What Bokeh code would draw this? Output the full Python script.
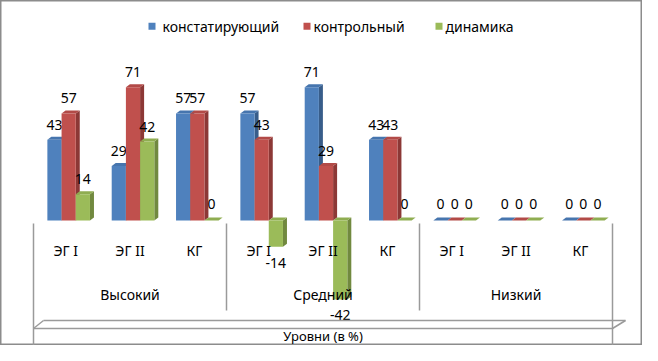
import numpy as np
from bokeh.plotting import figure
from bokeh.models import ColumnDataSource, Range1d
from bokeh.core.properties import value
from bokeh.embed import file_html
from bokeh.resources import INLINE

# ---------------- data ----------------
categories = ["ЭГ I", "ЭГ II", "КГ", "ЭГ I", "ЭГ II", "КГ", "ЭГ I", "ЭГ II", "КГ"]
groups = ["Высокий", "Средний", "Низкий"]
series_names = ["констатирующий", "контрольный", "динамика"]
konst = [43, 29, 57, 57, 71, 43, 0, 0, 0]
kontr = [57, 71, 57, 43, 29, 43, 0, 0, 0]
dinam = [14, 42, 0, -14, -42, 0, 0, 0, 0]
axis_title = "Уровни (в %)"

series_values = [konst, kontr, dinam]
front_colors = ["#4F81BD", "#C0504D", "#9BBB59"]
top_colors = ["#4675AE", "#B24A47", "#8FAD51"]
side_colors = ["#385D8A", "#8C3836", "#71893F"]

FONT = value("Noto Sans")
GRAY = "#9a9a9a"
FS = "14px"

# ---------------- layout helpers (reference pixel -> data) ----------------
W, H = 642, 345
X0_REF = 33.0
CAT_PX = (612.0 - 33.0) / 9.0
BASE_REF = 220.0
PX_PER_UNIT = 1.878


def xd(px):
    return (px - X0_REF) / CAT_PX - 0.5


def yd(py):
    return (BASE_REF - py) / PX_PER_UNIT


p = figure(width=W, height=H, x_range=Range1d(xd(0), xd(W)), y_range=Range1d(yd(H), yd(0)),
           output_backend="svg", toolbar_location=None, min_border=0)
p.axis.visible = False
p.grid.visible = False
p.outline_line_color = "#8c8c8c"
p.outline_line_width = 2
p.background_fill_color = "white"
p.border_fill_color = "white"

# ---------------- bars (3D look) ----------------
bw = 14.2 / CAT_PX
off = 3.0 / CAT_PX
ddx = 4.0 / CAT_PX
ddy = 3.0 / PX_PER_UNIT

idx = np.arange(len(categories))
for k, vals in enumerate(series_values):
    v = np.array(vals, dtype=float)
    xc = idx + off + (k - 1) * bw
    x0 = xc - bw / 2
    x1 = xc + bw / 2
    top = np.maximum(v, 0)
    bot = np.minimum(v, 0)
    side_xs = [[a, a + ddx, a + ddx, a] for a in x1]
    side_ys = [[b, b + ddy, t + ddy, t] for b, t in zip(bot, top)]
    top_xs = [[a, b, b + ddx, a + ddx] for a, b in zip(x0, x1)]
    top_ys = [[t, t, t + ddy, t + ddy] for t in top]
    p.patches(side_xs, side_ys, fill_color=side_colors[k], line_color=None)
    p.patches(top_xs, top_ys, fill_color=top_colors[k], line_color=None)
    p.quad(left=x0, right=x1, top=top, bottom=bot, fill_color=front_colors[k], line_color=None)

    # value labels
    ly = np.where(v > 0, v + 15.0 / PX_PER_UNIT,
                  np.where(v < 0, v - 16.0 / PX_PER_UNIT, 17.0 / PX_PER_UNIT))
    src = ColumnDataSource(dict(x=xc, y=ly, t=[str(int(a)) for a in vals]))
    p.text(x="x", y="y", text="t", source=src, text_font=FONT, text_font_size=FS,
           text_align="center", text_baseline="middle", text_color="#000000")

# ---------------- category axis ----------------
p.text(x=idx, y=[yd(250)] * len(idx), text=categories, text_font=FONT, text_font_size=FS,
       text_align="center", text_baseline="middle", text_color="#000000")
p.text(x=[1, 4, 7], y=[yd(294)] * 3, text=groups, text_font=FONT, text_font_size=FS,
       text_align="center", text_baseline="middle", text_color="#000000")
p.text(x=[xd(322.5)], y=[yd(335)], text=[axis_title], text_font=FONT, text_font_size="13px",
       text_align="center", text_baseline="middle", text_color="#000000")

# separators
p.segment(x0=[-0.5, 2.5, 5.5, 8.5], y0=[yd(223)] * 4,
          x1=[-0.5, 2.5, 5.5, 8.5], y1=[yd(360), yd(310), yd(310), yd(360)],
          line_color=GRAY, line_width=1.5)
# floor box of the outer level
p.segment(x0=[xd(33), xd(43), xd(33), xd(612)], y0=[yd(328), yd(320), yd(328), yd(328)],
          x1=[xd(612), xd(625), xd(43), xd(625)], y1=[yd(328), yd(320), yd(320), yd(320)],
          line_color=GRAY, line_width=1.5)

# ---------------- legend ----------------
leg_x = [xd(151.5), xd(306.5), xd(438.5)]
leg_tx = [xd(162), xd(313), xd(445)]
ly0 = yd(25.7)
p.rect(x=leg_x, y=[ly0] * 3, width=7, height=7, width_units="screen", height_units="screen",
       fill_color=front_colors, line_color=None)
p.text(x=leg_tx, y=[ly0] * 3, text=series_names, text_font=FONT, text_font_size=FS,
       text_align="left", text_baseline="middle", text_color="#000000")

open("out.html", "w").write(file_html(p, INLINE))
